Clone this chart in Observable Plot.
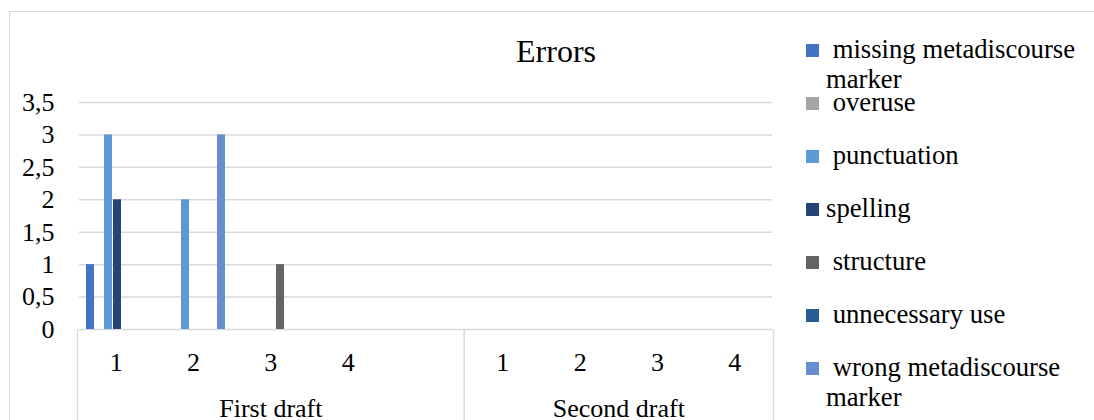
<!DOCTYPE html>
<html>
<head>
<meta charset="utf-8">
<script src="https://cdn.jsdelivr.net/npm/d3@7"></script>
<script src="https://cdn.jsdelivr.net/npm/@observablehq/plot@0.6"></script>
<style>
  html, body { margin: 0; padding: 0; background: #fff; overflow: hidden; }
  #chart { position: relative; width: 1094px; height: 420px; overflow: hidden;
           font-family: "Liberation Serif", "Times New Roman", serif; color: #000; }
  #border { position: absolute; left: 9px; top: 11px; width: 1300px; height: 700px;
            border: 1.5px solid #d9d9d9; box-sizing: border-box; }
  #title { position: absolute; left: 556px; top: 35px; transform: translateX(-50%);
           font-size: 32px; line-height: 32px; white-space: nowrap; }
  #main { position: absolute; left: 0; top: 0; }
  #xaxis { position: absolute; left: 0; top: 329px; }
  #legend { position: absolute; left: 806px; top: 0; }
  .item { position: absolute; left: 0; height: 30px; }
  .sw { position: absolute; left: 0; top: 8.5px; width: 13px; height: 13px; }
  .lab { position: absolute; left: 20px; top: -1.5px; width: 262px; font-size: 26.7px;
         line-height: 30px; white-space: pre-wrap; }
</style>
</head>
<body>
<div id="chart">
  <div id="border"></div>
  <div id="main"></div>
  <div id="xaxis"></div>
  <div id="title">Errors</div>
  <div id="legend"></div>
</div>
<script>
// ---- data ----
const series = ["missing metadiscourse marker", "overuse", "punctuation", "spelling",
                "structure", "unnecessary use", "wrong metadiscourse marker"];
const legendLabels = [" missing metadiscourse marker", " overuse", " punctuation", "spelling",
                      " structure", " unnecessary use", " wrong metadiscourse marker"];
const colors = ["#4472C4", "#A5A5A5", "#5B9BD5", "#264478", "#636363", "#255E91", "#698ED0"];
const groups = ["First draft", "Second draft"];
const firstDraftCategories = ["1", "2", "3", "4", ""];
const secondDraftCategories = ["1", "2", "3", "4"];
// values per series: First draft categories, then Second draft categories (null = no bar)
const missingMarker  = [1, null, null, null, null,   null, null, null, null];
const overuse        = [null, null, null, null, null, null, null, null, null];
const punctuation    = [3, 2, null, null, null,      null, null, null, null];
const spelling       = [2, null, null, null, null,   null, null, null, null];
const structure      = [null, null, 1, null, null,   null, null, null, null];
const unnecessaryUse = [null, null, null, null, null, null, null, null, null];
const wrongMarker    = [null, 3, null, null, null,   null, null, null, null];
const yTicks = [0, 0.5, 1, 1.5, 2, 2.5, 3, 3.5];

// ---- derived tables ----
const seriesValues = [missingMarker, overuse, punctuation, spelling, structure, unnecessaryUse, wrongMarker];
const groupCats = [firstDraftCategories, secondDraftCategories];
const cats = [];
const spans = [];
groups.forEach((g, gi) => {
  const start = cats.length;
  groupCats[gi].forEach((label, li) => cats.push({key: g + "#" + li, group: g, label}));
  spans.push({group: g, start, end: cats.length});
});
const boundaries = [0, ...spans.map(s => s.end)];
// one row per category and series (empty cells keep their facet drawn)
const rows = [];
series.forEach((s, si) => seriesValues[si].forEach((v, ci) => {
  rows.push({cat: cats[ci].key, series: s, value: v});
}));

const font = '"Liberation Serif", "Times New Roman", serif';
const style = {fontFamily: font, fontSize: "26px", color: "#000", background: "transparent", overflow: "visible"};

const main = Plot.plot({
  width: 1094, height: 331,
  marginLeft: 77, marginRight: 321, marginTop: 102, marginBottom: 2,
  style,
  facet: {data: rows, x: "cat"},
  fx: {domain: cats.map(d => d.key), padding: 0, axis: null},
  x: {domain: series, paddingInner: 0.1, paddingOuter: 0.77, axis: null},
  y: {domain: [0, 3.5]},
  color: {domain: series, range: colors},
  marks: [
    Plot.gridY(yTicks, {stroke: "#d9d9d9", strokeOpacity: 1, strokeWidth: 1.5}),
    Plot.axisY(yTicks, {tickSize: 0, tickPadding: 25, label: null, fill: "#000",
                        tickFormat: d => String(d).replace(".", ",")}),
    Plot.barY(rows, {x: "series", y: "value", fill: "series", inset: 0})
  ]
});
document.getElementById("main").append(main);

const xaxis = Plot.plot({
  width: 1094, height: 91,
  marginLeft: 77, marginRight: 321, marginTop: 0, marginBottom: 0,
  style,
  x: {domain: [0, cats.length], axis: null},
  marks: [
    Plot.ruleX(boundaries, {stroke: "#d9d9d9", strokeWidth: 1.5}),
    Plot.text(cats, {x: (d, i) => i + 0.5, text: "label", frameAnchor: "top", dy: 33,
                     lineAnchor: "middle", fill: "#000"}),
    Plot.text(spans, {x: d => (d.start + d.end) / 2, text: "group", frameAnchor: "top", dy: 79,
                      lineAnchor: "middle", fill: "#000"})
  ]
});
document.getElementById("xaxis").append(xaxis);

// ---- legend ----
const legend = d3.select("#legend");
series.forEach((s, i) => {
  const item = legend.append("div").attr("class", "item").style("top", (35 + 53.1 * i) + "px");
  item.append("div").attr("class", "sw").style("background", colors[i]);
  item.append("div").attr("class", "lab").text(legendLabels[i]);
});
</script>
</body>
</html>
